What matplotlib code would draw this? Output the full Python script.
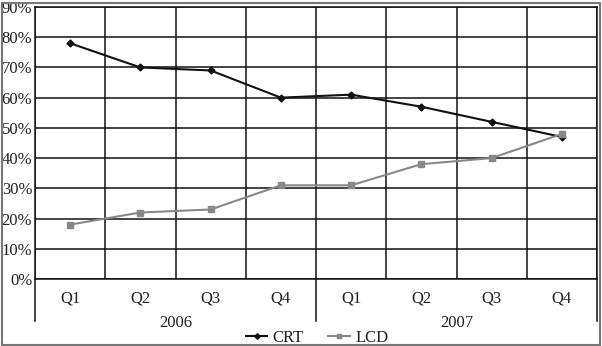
import numpy as np
import matplotlib.pyplot as plt
from matplotlib.patches import Rectangle
from matplotlib.transforms import blended_transform_factory

# data
quarters = ['Q1', 'Q2', 'Q3', 'Q4', 'Q1', 'Q2', 'Q3', 'Q4']
years = ['2006', '2007']
crt = [78, 70, 69, 60, 61, 57, 52, 47]
lcd = [18, 22, 23, 31, 31, 38, 40, 48]

plt.rcParams['font.family'] = ['Liberation Serif', 'DejaVu Serif']

fig = plt.figure(figsize=(6.02, 3.46), dpi=100)
ax = fig.add_axes([35 / 602, 67 / 346, 562 / 602, 272 / 346])

x = np.arange(len(quarters))
ax.plot(x, crt, color='#111111', lw=1.5, marker='D', ms=3.5, label='CRT', zorder=3)
ax.plot(x, lcd, color='#888888', lw=1.5, marker='s', ms=4, label='LCD', zorder=3)

ax.set_xlim(-0.5, len(quarters) - 0.5)
ax.set_ylim(0, 90)
ax.set_yticks(np.arange(0, 91, 10))
ax.set_yticklabels([f'{v}%' for v in range(0, 91, 10)], fontsize=12, color='#222222')
ax.set_xticks(x)
ax.set_xticklabels(quarters, fontsize=12, color='#222222')
ax.set_xticks(np.arange(-0.5, len(quarters), 1), minor=True)
ax.tick_params(axis='both', which='both', length=0)
ax.tick_params(axis='x', pad=8)
ax.tick_params(axis='y', pad=2)

ax.grid(axis='y', which='major', color='#111111', lw=1.1)
ax.grid(axis='x', which='minor', color='#111111', lw=1.1)
ax.set_axisbelow(True)
for s in ax.spines.values():
    s.set_color('#111111')
    s.set_linewidth(1.1)

# year groups below the quarter labels
trans = blended_transform_factory(ax.transData, ax.transAxes)
n = len(quarters) // len(years)
for i, yr in enumerate(years):
    ax.text(i * n + (n - 1) / 2, -0.16, yr, transform=trans, ha='center', va='center',
            fontsize=12, color='#222222')
for b in range(len(years) + 1):
    ax.plot([b * n - 0.5, b * n - 0.5], [0, -0.155], transform=trans, color='#111111',
            lw=1.1, clip_on=False)

fig.legend(loc='center', bbox_to_anchor=(317 / 602, 8 / 346), ncol=2, frameon=False,
           fontsize=12, handlelength=1.3, columnspacing=1.5, handletextpad=0.3,
           borderaxespad=0, labelcolor='#222222', markerscale=0.8)

fig.patches.append(Rectangle((1.5 / 602, 1.5 / 346), 598 / 602, 342 / 346, fill=False,
                             edgecolor='#777777', lw=1.5, transform=fig.transFigure))

fig.savefig('out.png', dpi=100)
